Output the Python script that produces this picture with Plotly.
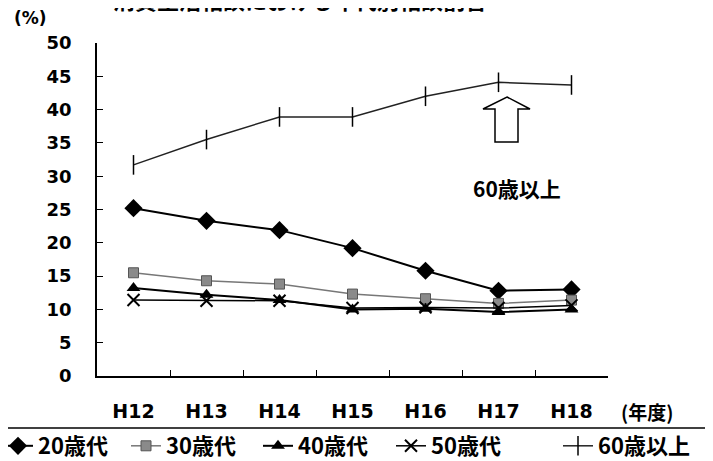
import plotly.graph_objects as go

years = ["H12", "H13", "H14", "H15", "H16", "H17", "H18"]
s20 = [25.2, 23.3, 21.9, 19.2, 15.8, 12.8, 13.0]
s30 = [15.5, 14.3, 13.8, 12.3, 11.6, 10.9, 11.4]
s40 = [13.2, 12.2, 11.4, 10.0, 10.1, 9.6, 10.0]
s50 = [11.4, 11.3, 11.3, 10.2, 10.3, 10.2, 10.6]
s60 = [31.7, 35.5, 38.9, 38.9, 42.0, 44.1, 43.7]
yticks = [0, 5, 10, 15, 20, 25, 30, 35, 40, 45, 50]

# page body has an 8px default margin: work in reference pixels, offset by 8
OFF = 8
W, H = 713 - OFF, 461 - OFF
L, R = 97 - OFF, 713 - 608
T, B = 43 - OFF, 461 - 376
pw, ph = W - L - R, H - T - B

def px2x(px):
    return (px - OFF - L) / pw * 7 - 0.5

def px2y(py):
    return (T + ph - (py - OFF)) / ph * 50

def paperx(px):
    return (px - OFF - L) / pw

def papery(py):
    return (T + ph - (py - OFF)) / ph

fig = go.Figure()
fig.add_trace(go.Scatter(x=years, y=s20, name="20歳代", mode="lines+markers", legend="legend",
                         line=dict(color="black", width=2),
                         marker=dict(symbol="diamond", size=14, color="black")))
fig.add_trace(go.Scatter(x=years, y=s30, name="30歳代", mode="lines+markers", legend="legend2",
                         line=dict(color="#777777", width=1.5),
                         marker=dict(symbol="square", size=10, color="#8a8a8a",
                                     line=dict(color="#555555", width=1))))
fig.add_trace(go.Scatter(x=years, y=s40, name="40歳代", mode="lines+markers", legend="legend3",
                         line=dict(color="black", width=2),
                         marker=dict(symbol="triangle-up", size=12, color="black")))
fig.add_trace(go.Scatter(x=years, y=s50, name="50歳代", mode="lines+markers", legend="legend4",
                         line=dict(color="black", width=1.5),
                         marker=dict(symbol="x-thin", size=12, color="black",
                                     line=dict(color="black", width=2))))
fig.add_trace(go.Scatter(x=years, y=s60, name="60歳以上", mode="lines+markers", legend="legend5",
                         line=dict(color="#222222", width=1.5),
                         marker=dict(symbol="line-ns", size=14, color="black",
                                     line=dict(color="black", width=1.5))))

pts = [(507, 97), (530, 109), (518, 109), (518, 142), (495, 142), (495, 109), (483, 109)]
path = "M " + " L ".join(f"{px2x(a):.4f},{px2y(b):.4f}" for a, b in pts) + " Z"
fig.add_shape(type="path", path=path, xref="x", yref="y",
              line=dict(color="black", width=1.5), fillcolor="white")

fig.add_shape(type="line", xref="paper", yref="paper",
              x0=paperx(OFF), x1=paperx(713), y0=papery(428), y1=papery(428),
              line=dict(color="black", width=1.5))

fig.add_annotation(text="60歳以上", x=px2x(517), y=px2y(188), xref="x", yref="y",
                   showarrow=False, font=dict(size=21, color="black",
                                               family="Noto Sans CJK JP", weight="bold"))
fig.add_annotation(text="(%)", x=paperx(30), y=papery(18), xref="paper", yref="paper",
                   showarrow=False, font=dict(size=17, color="black", family="DejaVu Sans",
                                              weight="bold"),
                   xanchor="center", yanchor="middle")
fig.add_annotation(text="(年度)", x=paperx(647), y=papery(411), xref="paper", yref="paper",
                   showarrow=False, font=dict(size=19, color="black", family="Noto Sans CJK JP",
                                              weight="bold"),
                   xanchor="center", yanchor="middle")
fig.add_annotation(text="<b>消費生活相談における年代別相談割合</b>", x=paperx(300),
                   y=papery(-1), xref="paper", yref="paper",
                   showarrow=False, font=dict(size=22, color="black", family="Noto Sans CJK JP"),
                   xanchor="center", yanchor="middle")

leg_font = dict(size=22, color="black", family="Noto Sans CJK JP", weight="bold")
leg_text_x = [40, 168, 300, 433, 600]
legends = {}
for i, tx in enumerate(leg_text_x):
    key = "legend" if i == 0 else f"legend{i + 1}"
    legends[key] = dict(orientation="h", x=paperx(tx - 42), xanchor="left",
                        y=papery(446), yanchor="middle", font=leg_font,
                        itemwidth=30, bgcolor="rgba(0,0,0,0)",
                        borderwidth=0)

fig.update_layout(
    width=W, height=H,
    margin=dict(l=L, r=R, t=T, b=B, autoexpand=False),
    paper_bgcolor="white", plot_bgcolor="white",
    showlegend=True,
    **legends,
)
fig.update_xaxes(type="category", categoryorder="array", categoryarray=years,
                 range=[-0.5, 6.5], showline=True, linecolor="black", linewidth=1.5,
                 ticks="inside", ticklen=6, tickcolor="black", tickson="boundaries",
                 showgrid=False, zeroline=False, ticklabelstandoff=17, automargin=False,
                 tickfont=dict(size=19, color="black", family="DejaVu Sans", weight="bold"))
fig.update_yaxes(range=[0, 50], tickvals=yticks, showline=True, linecolor="black",
                 linewidth=1.5, ticks="inside", ticklen=6, tickcolor="black",
                 showgrid=False, zeroline=False, ticklabelstandoff=20, automargin=False,
                 tickfont=dict(size=18, color="black", family="DejaVu Sans", weight="bold"))

fig.write_html("out.html")
